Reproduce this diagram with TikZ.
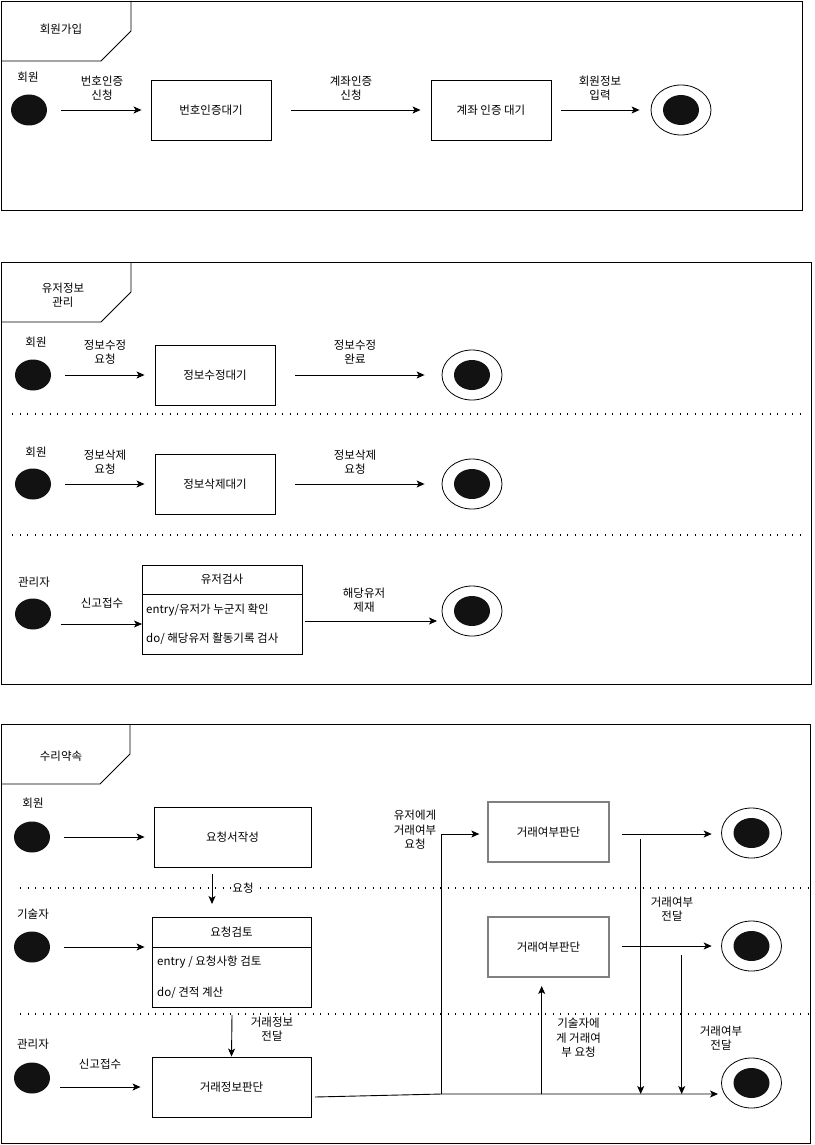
\documentclass[tikz,border=0pt]{standalone}
\usepackage{fontspec}
\setmainfont{Noto Sans CJK KR}
\usetikzlibrary{arrows.meta,shapes.geometric}
\begin{document}
\begin{tikzpicture}[x=1pt,y=-1pt,
  font=\fontsize{11.5}{14.5}\selectfont,
  frame/.style={draw=black, line width=0.9pt},
  arr/.style={-{Stealth[length=8pt,width=7pt,inset=2pt]}, line width=0.9pt},
  plain/.style={line width=0.9pt},
  initst/.style={ellipse, fill=black!93, minimum width=36pt, minimum height=31pt, inner sep=0pt},
  finalout/.style={ellipse, draw, line width=0.8pt, minimum width=60pt, minimum height=50pt, inner sep=0pt},
  finalin/.style={ellipse, fill=black!93, minimum width=36pt, minimum height=30pt, inner sep=0pt},
  statebox/.style={rectangle, draw, line width=0.9pt, minimum width=120pt, minimum height=60pt, inner sep=0pt},
  greybox/.style={rectangle, draw=black!50, line width=1.3pt, minimum width=121pt, minimum height=60pt, inner sep=0pt},
  lbl/.style={align=center, inner sep=0pt},
  bglbl/.style={align=center, inner sep=1pt, fill=white},
  sep/.style={line width=1.3pt, dash pattern=on 1.3pt off 6.2pt},
]
\useasboundingbox (0,0) rectangle (814,1145);

% ================= Frame 1 =================
\draw[frame] (1,1) rectangle (802,210);
\draw[frame] (1,61) -- (101,61) -- (131,31) -- (131,1);
\node[lbl] (t1) at (61,29) {회원가입};
\node[lbl] (a1) at (28,77) {회원};
\node[initst] (i1) at (29,110) {};
\node[statebox] (s1) at (211,110) {번호인증대기};
\node[statebox] (s2) at (491,110) {계좌 인증 대기};
\node[finalout] (f1) at (681,110) {};
\node[finalin] (f1i) at (f1) {};
\draw[arr, shorten <=14pt, shorten >=9pt] (i1) -- (s1);
\node[lbl] (l1) at (102,88) {번호인증\\신청};
\draw[arr, shorten <=20pt, shorten >=10pt] (s2.west -| s1.east) -- (s2);
\node[lbl] (l2) at (351,88) {계좌인증\\신청};
\draw[arr, shorten <=10pt, shorten >=11pt] (s2) -- (f1);
\node[lbl] (l3) at (600,88) {회원정보\\입력};

% ================= Frame 2 =================
\draw[frame] (1,262) rectangle (811,684);
\draw[frame] (1,322) -- (101,322) -- (131,292) -- (131,262);
\node[lbl] (t2) at (63,295) {유저정보\\관리};
% row 1
\node[lbl] (a2) at (36,342) {회원};
\node[initst] (i2) at (33,375) {};
\node[statebox] (s3) at (215,375) {정보수정대기};
\node[finalout] (f2) at (472,375) {};
\node[finalin] (f2i) at (f2) {};
\draw[arr, shorten <=14pt, shorten >=10pt] (i2) -- (s3);
\node[lbl] (l4) at (105,352) {정보수정\\요청};
\draw[arr, shorten <=20pt, shorten >=17pt] (s3) -- (f2);
\node[lbl] (l5) at (355,352) {정보수정\\완료};
\coordinate (d1a) at (12,414);
\coordinate (d1b) at (800,414);
\draw[sep] (d1a) -- (d1b);
% row 2
\node[lbl] (a3) at (36,452) {회원};
\node[initst] (i3) at (33,484) {};
\node[statebox] (s4) at (215,484) {정보삭제대기};
\node[finalout] (f3) at (472,484) {};
\node[finalin] (f3i) at (f3) {};
\draw[arr, shorten <=14pt, shorten >=10pt] (i3) -- (s4);
\node[lbl] (l6) at (105,462) {정보삭제\\요청};
\draw[arr, shorten <=20pt, shorten >=17pt] (s4) -- (f3);
\node[lbl] (l7) at (355,462) {정보삭제\\요청};
\coordinate (d2a) at (12,535);
\coordinate (d2b) at (801,535);
\draw[sep] (d2a) -- (d2b);
% row 3
\node[lbl] (a4) at (34,582) {관리자};
\node[initst] (i4) at (33,614) {};
\node[rectangle, draw, line width=0.9pt, minimum width=160pt, minimum height=89pt, inner sep=0pt] (s5) at (222,609.5) {};
\draw[plain] (s5.west |- 0,594) -- (s5.east |- 0,594);
\node[lbl] (s5t) at (222,579.5) {유저검사};
\node[lbl, anchor=west] (s5e) at (146,610) {entry/유저가 누군지 확인};
\node[lbl, anchor=west] (s5d) at (146,639) {do/ 해당유저 활동기록 검사};
\node[finalout] (f4) at (472,611) {};
\node[finalin] (f4i) at (f4) {};
\coordinate (e4a) at (61,624);
\coordinate (e4b) at (142,624);
\draw[arr] (e4a) -- (e4b);
\node[lbl] (l8) at (102,603) {신고접수};
\coordinate (e5a) at (305,621);
\coordinate (e5b) at (437,621);
\draw[arr] (e5a) -- (e5b);
\node[lbl] (l9) at (364,600) {해당유저\\제재};

% ================= Frame 3 =================
\draw[frame] (1,724) rectangle (810,1143);
\draw[frame] (1,784) -- (100,784) -- (130,754) -- (130,724);
\node[lbl] (t3) at (61,756) {수리약속};
% row 1
\node[lbl] (a5) at (33,803) {회원};
\node[initst] (i5) at (32,837) {};
\node[statebox, minimum width=157pt] (s6) at (232.5,837) {요청서작성};
\draw[arr, shorten <=14pt, shorten >=9pt] (i5) -- (s6);
\coordinate (r1a) at (212,874);
\coordinate (r1b) at (212,904);
\coordinate (d3a) at (20,888);
\coordinate (d3b) at (808,888);
\draw[sep] (d3a) -- (d3b);
\draw[arr] (r1a) -- (r1b);
\node[bglbl] (l10) at (243,888) {요청};
% row 2
\node[lbl] (a6) at (33,914) {기술자};
\node[initst] (i6) at (32,947) {};
\node[rectangle, draw, line width=0.9pt, minimum width=159pt, minimum height=90pt, inner sep=0pt] (s7) at (231.5,962) {};
\draw[plain] (s7.west |- 0,947) -- (s7.east |- 0,947);
\node[lbl] (s7t) at (231.5,932) {요청검토};
\node[lbl, anchor=west] (s7e) at (157,962) {entry / 요청사항 검토};
\node[lbl, anchor=west] (s7d) at (157,993) {do/ 견적 계산};
\draw[arr, shorten <=14pt, shorten >=7pt] (i6) -- (s7.west |- i6);
\coordinate (d4a) at (20,1014);
\coordinate (d4b) at (808,1014);
\draw[sep] (d4a) -- (d4b);
% row 3
\node[lbl] (a7) at (33,1044) {관리자};
\node[initst] (i7) at (32,1078) {};
\node[statebox, minimum width=159pt] (s8) at (231.5,1087) {거래정보판단};
\coordinate (e7a) at (60,1087);
\draw[arr, shorten >=11pt] (e7a) -- (s8);
\node[lbl] (l11) at (100,1064) {신고접수};
\coordinate (r2a) at (232,1015);
\draw[arr] (r2a) -- (s8.north);
\node[bglbl] (l12) at (272,1029) {거래정보\\전달};
% right side
\node[greybox] (b1) at (548.5,832) {거래여부판단};
\node[greybox] (b2) at (548.5,947) {거래여부판단};
\node[finalout] (f5) at (751.5,833) {};
\node[finalin] (f5i) at (f5) {};
\node[finalout] (f6) at (751.5,946) {};
\node[finalin] (f6i) at (f6) {};
\node[finalout] (f7) at (751.5,1083) {};
\node[finalin] (f7i) at (f7) {};
\coordinate (j1) at (441.7,1094);
\coordinate (j2) at (541.7,1094);
\coordinate (j3) at (640.7,1094);
\coordinate (j4) at (681.7,1094);
\coordinate (fend) at (718,1094);
\coordinate (sstart) at (315,1097);
\draw[arr] (sstart) -- (j1) -- (fend);
\coordinate (up1) at (441.7,834);
\draw[arr, shorten >=8pt] (j1) -- (up1) -- (b1.west |- up1);
\node[lbl] (l13) at (415,830) {유저에게\\거래여부\\요청};
\coordinate (up2) at (541.7,986);
\draw[arr] (j2) -- (up2);
\node[lbl] (l14) at (578.5,1038) {기술자에\\게 거래여\\부 요청};
\coordinate (o1) at (621.7,834);
\coordinate (o1e) at (711.7,834);
\draw[arr] (o1) -- (o1e);
\coordinate (o2) at (621.7,946);
\coordinate (o2e) at (711.7,946);
\draw[arr] (o2) -- (o2e);
\coordinate (v1) at (640.7,839);
\draw[arr] (v1) -- (j3);
\node[lbl] (l15) at (672,909) {거래여부\\전달};
\coordinate (v2) at (681.7,955);
\draw[arr] (v2) -- (j4);
\node[lbl] (l16) at (721,1038) {거래여부\\전달};
\end{tikzpicture}
\end{document}
